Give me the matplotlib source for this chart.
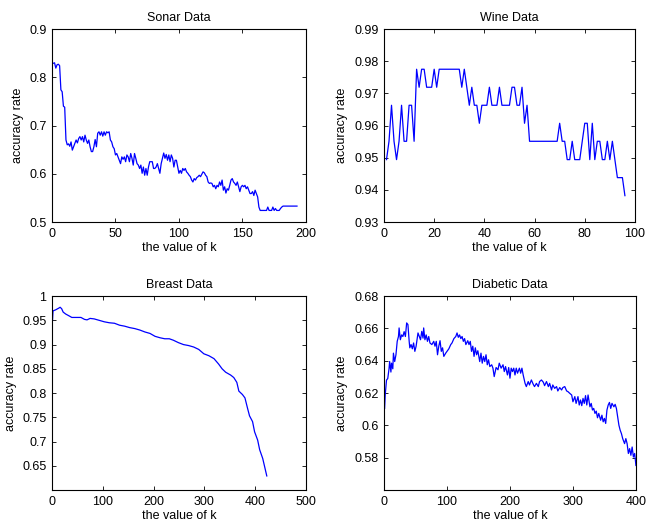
import numpy as np
import matplotlib.pyplot as plt
from matplotlib.ticker import FuncFormatter

# accuracy rate versus k for four data sets

sonar_k = list(range(1, 183)) + [193]
sonar_acc = [
    0.829, 0.830, 0.819, 0.826, 0.827, 0.824, 0.774, 0.770, 0.740, 0.738,
    0.670, 0.660, 0.662, 0.657, 0.666, 0.649, 0.656, 0.663, 0.670, 0.664,
    0.673, 0.677, 0.670, 0.677, 0.666, 0.680, 0.670, 0.663, 0.670, 0.656,
    0.646, 0.646, 0.656, 0.671, 0.656, 0.684, 0.687, 0.680, 0.687, 0.678,
    0.687, 0.680, 0.687, 0.685, 0.687, 0.670, 0.666, 0.656, 0.652, 0.639,
    0.642, 0.635, 0.628, 0.621, 0.635, 0.630, 0.635, 0.625, 0.639, 0.635,
    0.625, 0.642, 0.632, 0.618, 0.642, 0.632, 0.621, 0.618, 0.611, 0.618,
    0.601, 0.614, 0.597, 0.611, 0.597, 0.614, 0.625, 0.625, 0.625, 0.611,
    0.611, 0.614, 0.621, 0.611, 0.601, 0.621, 0.632, 0.643, 0.632, 0.640,
    0.628, 0.639, 0.625, 0.639, 0.632, 0.614, 0.628, 0.628, 0.614, 0.601,
    0.607, 0.601, 0.611, 0.607, 0.611, 0.604, 0.601, 0.597, 0.594, 0.587,
    0.583, 0.590, 0.587, 0.592, 0.594, 0.597, 0.594, 0.599, 0.604, 0.602,
    0.597, 0.594, 0.583, 0.580, 0.581, 0.580, 0.573, 0.576, 0.569, 0.576,
    0.573, 0.583, 0.576, 0.587, 0.566, 0.573, 0.560, 0.569, 0.566, 0.576,
    0.587, 0.590, 0.583, 0.580, 0.576, 0.583, 0.573, 0.563, 0.573, 0.576,
    0.573, 0.576, 0.569, 0.573, 0.566, 0.559, 0.559, 0.563, 0.555, 0.566,
    0.559, 0.552, 0.531, 0.524, 0.524, 0.524, 0.524, 0.524, 0.524, 0.531,
    0.524, 0.524, 0.524, 0.531, 0.524, 0.528, 0.524, 0.524, 0.524, 0.528,
    0.531, 0.533, 0.533,
]

wine_k = list(range(1, 97))
wine_acc = [
    0.9494, 0.9551, 0.9663, 0.9551, 0.9494, 0.9551, 0.9663, 0.9551, 0.9551, 0.9663,
    0.9663, 0.9551, 0.9775, 0.9719, 0.9775, 0.9775, 0.9719, 0.9719, 0.9719, 0.9775,
    0.9719, 0.9775, 0.9775, 0.9775, 0.9775, 0.9775, 0.9775, 0.9775, 0.9775, 0.9775,
    0.9719, 0.9775, 0.9719, 0.9663, 0.9719, 0.9663, 0.9663, 0.9607, 0.9663, 0.9663,
    0.9663, 0.9719, 0.9663, 0.9663, 0.9663, 0.9719, 0.9663, 0.9663, 0.9663, 0.9663,
    0.9719, 0.9719, 0.9663, 0.9663, 0.9719, 0.9607, 0.9663, 0.9551, 0.9551, 0.9551,
    0.9551, 0.9551, 0.9551, 0.9551, 0.9551, 0.9551, 0.9551, 0.9551, 0.9551, 0.9607,
    0.9551, 0.9551, 0.9494, 0.9494, 0.9551, 0.9494, 0.9494, 0.9494, 0.9551, 0.9607,
    0.9607, 0.9494, 0.9607, 0.9494, 0.9551, 0.9551, 0.9494, 0.9494, 0.9551, 0.9494,
    0.9551, 0.9494, 0.9438, 0.9438, 0.9438, 0.9382,
]

breast_k = [1, 2, 7, 13, 16, 19, 22, 27, 34, 39, 47, 57, 64, 69, 75, 83, 93,
            103, 113, 123, 133, 143, 153, 163, 173, 183, 193, 203, 213, 222,
            231, 239, 249, 259, 269, 279, 289, 299, 309, 319, 328, 335, 342,
            352, 358, 364, 368, 375, 380, 385, 389, 395, 399, 405, 409, 415,
            419, 423]
breast_acc = [0.950, 0.9695, 0.9716, 0.975, 0.977, 0.974, 0.967, 0.963, 0.959,
              0.956, 0.956, 0.956, 0.952, 0.951, 0.954, 0.953, 0.950, 0.947,
              0.945, 0.944, 0.940, 0.938, 0.935, 0.933, 0.930, 0.926, 0.923,
              0.917, 0.914, 0.912, 0.912, 0.909, 0.904, 0.900, 0.898, 0.895,
              0.890, 0.881, 0.877, 0.871, 0.860, 0.850, 0.843, 0.837, 0.832,
              0.822, 0.804, 0.797, 0.790, 0.769, 0.753, 0.741, 0.720, 0.703,
              0.683, 0.665, 0.647, 0.629]

diabetic_k = [1, 2, 4, 6, 8, 9, 11, 12, 14, 15, 17, 19, 21, 23, 24, 26, 28, 30,
              32, 34, 36, 38, 40, 41, 43, 45, 47, 49, 51, 54, 56, 58, 60, 62,
              63, 65, 67, 69, 71, 73, 76, 79, 81, 83, 85, 87, 89, 91, 93, 95,
              98, 100, 103, 106, 108, 111, 114, 116, 118, 120, 122, 124, 126,
              128, 130, 133, 135, 137, 139, 141, 143, 145, 147, 149, 152, 154,
              156, 158, 160, 162, 164, 166, 168, 171, 173, 175, 178, 181, 183,
              186, 189, 191, 193, 196, 198, 200, 202, 204, 206, 208, 210, 212,
              215, 217, 219, 221, 224, 226, 229, 231, 234, 237, 239, 242, 245,
              247, 250, 253, 255, 258, 261, 263, 266, 268, 271, 274, 276, 279,
              282, 284, 287, 290, 292, 295, 298, 300, 303, 305, 308, 310, 312,
              314, 316, 318, 320, 322, 324, 327, 329, 331, 333, 335, 337, 339,
              341, 344, 346, 348, 350, 352, 354, 356, 358, 360, 362, 365, 367,
              369, 371, 373, 375, 377, 379, 382, 384, 386, 388, 390, 392, 394,
              396, 398, 400]
diabetic_acc = [0.6105, 0.619, 0.628, 0.629, 0.635, 0.6395, 0.633, 0.6385, 0.635,
                0.6447, 0.6395, 0.6437, 0.652, 0.655, 0.6603, 0.653, 0.656,
                0.655, 0.658, 0.655, 0.6634, 0.6624, 0.652, 0.648, 0.650,
                0.6474, 0.651, 0.6458, 0.649, 0.6572, 0.655, 0.653, 0.6582,
                0.654, 0.6603, 0.653, 0.656, 0.652, 0.655, 0.651, 0.650, 0.652,
                0.649, 0.652, 0.6437, 0.649, 0.6524, 0.6458, 0.648, 0.6427,
                0.6447, 0.6458, 0.6474, 0.650, 0.651, 0.6537, 0.655, 0.6572,
                0.6545, 0.656, 0.6537, 0.655, 0.652, 0.6537, 0.650, 0.6524,
                0.650, 0.652, 0.6458, 0.649, 0.6427, 0.648, 0.6437, 0.6462,
                0.6395, 0.6447, 0.6385, 0.6427, 0.6395, 0.6437, 0.6375, 0.6406,
                0.6364, 0.6375, 0.6354, 0.6302, 0.6358, 0.6344, 0.6385, 0.6354,
                0.6375, 0.6333, 0.6364, 0.6312, 0.6358, 0.6292, 0.6354, 0.6333,
                0.6354, 0.6312, 0.6354, 0.6323, 0.6354, 0.6323, 0.6354, 0.6312,
                0.626, 0.624, 0.6271, 0.625, 0.6281, 0.6254, 0.624, 0.626,
                0.624, 0.6271, 0.6281, 0.6267, 0.6246, 0.6271, 0.624, 0.626,
                0.6219, 0.625, 0.6229, 0.624, 0.6213, 0.6234, 0.6219, 0.6234,
                0.624, 0.6213, 0.6209, 0.6198, 0.6188, 0.6146, 0.6178, 0.6136,
                0.6178, 0.6126, 0.6157, 0.6122, 0.6167, 0.6136, 0.6184, 0.6126,
                0.6188, 0.6115, 0.6136, 0.6095, 0.6105, 0.6074, 0.6088, 0.6047,
                0.6074, 0.6032, 0.6063, 0.6022, 0.6043, 0.6012, 0.6095, 0.6126,
                0.6142, 0.6105, 0.6136, 0.6115, 0.6130, 0.6105, 0.6053, 0.6001,
                0.597, 0.5949, 0.5918, 0.5887, 0.5918, 0.5887, 0.5826, 0.5856,
                0.5815, 0.5866, 0.5804, 0.5826, 0.5752]

plt.rcParams['font.family'] = ['Liberation Sans', 'DejaVu Sans']

fig = plt.figure(figsize=(6.46, 5.24), dpi=100)

# [left, bottom, width, height] in figure fraction, MATLAB subplot(2,2,i) look
panels = [
    ('Sonar Data', sonar_k, sonar_acc, [0.0805, 0.5763, 0.393, 0.3683],
     (0, 200), np.arange(0, 201, 50), (0.5, 0.9), np.arange(0.5, 0.91, 0.1)),
    ('Wine Data', wine_k, wine_acc, [0.5944, 0.5763, 0.3885, 0.3683],
     (0, 100), np.arange(0, 101, 20), (0.93, 0.99), np.arange(0.93, 0.991, 0.01)),
    ('Breast Data', breast_k, breast_acc, [0.0805, 0.0649, 0.393, 0.370],
     (0, 500), np.arange(0, 501, 100), (0.6, 1.0), np.arange(0.65, 1.001, 0.05)),
    ('Diabetic Data', diabetic_k, diabetic_acc, [0.5944, 0.0649, 0.39, 0.370],
     (0, 400), np.arange(0, 401, 100), (0.56, 0.68), np.arange(0.58, 0.681, 0.02)),
]

for title, k, acc, pos, xl, xt, yl, yt in panels:
    ax = fig.add_axes(pos)
    ax.plot(k, acc, color='b', linewidth=0.9)
    ax.set_xlim(xl)
    ax.set_ylim(yl)
    ax.set_xticks(xt)
    ax.set_yticks(yt)
    ax.yaxis.set_major_formatter(FuncFormatter(lambda v, p: '%g' % round(v, 4)))
    ax.tick_params(direction='in', top=True, right=True, length=3,
                   width=0.6, labelsize=9, pad=4)
    for s in ax.spines.values():
        s.set_linewidth(0.8)
    ax.set_title(title, fontsize=9, pad=6)
    ax.set_xlabel('the value of k', fontsize=9, labelpad=2)
    ax.set_ylabel('accuracy rate', fontsize=9, labelpad=4)

plt.savefig('out.png', dpi=100)
